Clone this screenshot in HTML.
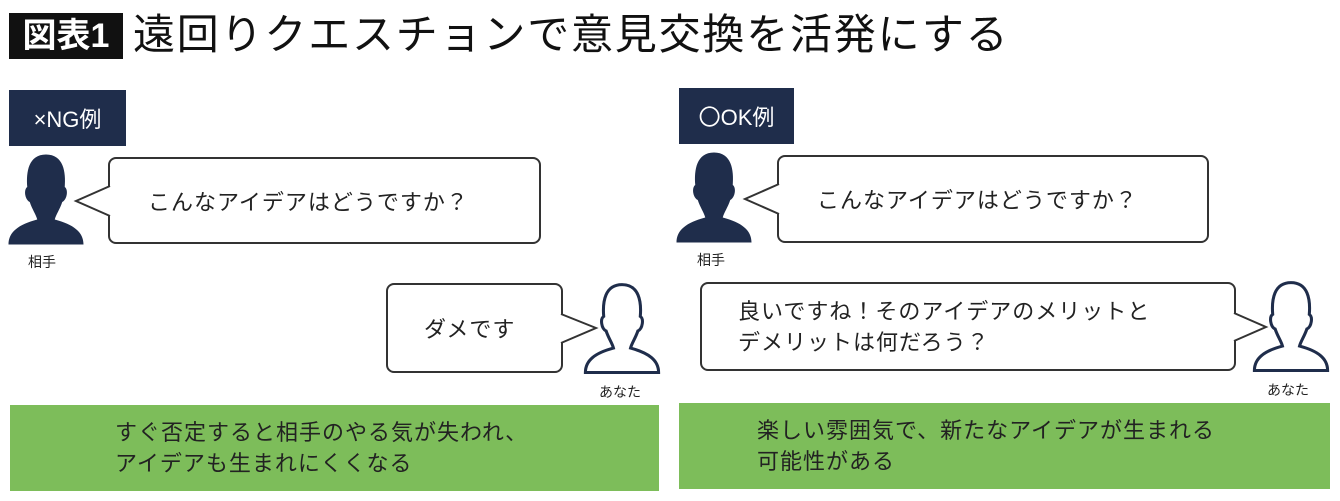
<!DOCTYPE html>
<html><head><meta charset="utf-8"><style>
body{margin:0;width:1340px;height:501px;background:#fff;position:relative;overflow:hidden;font-family:"Liberation Sans","Noto Sans CJK JP",sans-serif;color:#222}
.a{position:absolute}
.lbl{background:#1f2d4b;color:#fff;font-size:22px;display:flex;align-items:center;justify-content:center}
.b{border:2px solid #333;border-radius:8px;background:#fff;font-size:22px;letter-spacing:1px;box-sizing:border-box;display:flex;align-items:center}
.g{background:#7dbd5a;font-size:22px;color:#222;line-height:31px;box-sizing:border-box;padding-left:105px;display:flex;flex-direction:column;justify-content:center;letter-spacing:1px}
.s{font-size:14px}
</style></head><body>
<div class="a" style="left:9px;top:13px;width:114px;height:46px;background:#111;color:#fff;font-size:34px;font-weight:bold;line-height:46px;text-align:center">図表1</div>
<div class="a" style="left:133px;top:8px;font-size:42px;line-height:54px;letter-spacing:1.8px;color:#111">遠回りクエスチョンで意見交換を活発にする</div>

<div class="a lbl" style="left:9px;top:90px;width:117px;height:56px">×NG例</div>
<div class="a lbl" style="left:679px;top:88px;width:115px;height:56px">〇OK例</div>

<svg class="a" style="left:0;top:0" width="1340" height="501">
<defs>
<path id="pf" d="M0,-38 C14,-38 16,-24 15,-12 C18,-10 17,-2 13,0 C11,6 8,10 7,14 C22,18 30,24 30,34 L-30,34 C-30,24 -22,18 -7,14 C-8,10 -11,6 -13,0 C-17,-2 -18,-10 -15,-12 C-16,-24 -14,-38 0,-38Z"/>
</defs>
<use href="#pf" transform="translate(46,202) scale(1.25)" fill="#1f2d4b"/>
<use href="#pf" transform="translate(714,200) scale(1.25)" fill="#1f2d4b"/>
<use href="#pf" transform="translate(622,331) scale(1.22)" fill="none" stroke="#1f2d4b" stroke-width="2.5"/>
<use href="#pf" transform="translate(1291,329) scale(1.22)" fill="none" stroke="#1f2d4b" stroke-width="2.5"/>
</svg>

<div class="a b" style="left:108px;top:157px;width:433px;height:87px;padding-left:38px">こんなアイデアはどうですか？</div>
<div class="a b" style="left:777px;top:155px;width:432px;height:88px;padding-left:38px">こんなアイデアはどうですか？</div>
<div class="a b" style="left:386px;top:283px;width:177px;height:90px;padding-left:36px">ダメです</div>
<div class="a b" style="left:700px;top:282px;width:536px;height:89px;padding-left:36px;line-height:31px">良いですね！そのアイデアのメリットと<br>デメリットは何だろう？</div>

<svg class="a" style="left:0;top:0" width="1340" height="501">
<polyline points="110,186 76,201 110,216" fill="#fff" stroke="#333" stroke-width="2"/>
<polyline points="779,184 745,199 779,214" fill="#fff" stroke="#333" stroke-width="2"/>
<polyline points="561,314 596,328 561,343" fill="#fff" stroke="#333" stroke-width="2"/>
<polyline points="1234,313 1266,327 1234,341" fill="#fff" stroke="#333" stroke-width="2"/>
</svg>

<div class="a s" style="left:28px;top:252px">相手</div>
<div class="a s" style="left:697px;top:250px">相手</div>
<div class="a s" style="left:599px;top:382px">あなた</div>
<div class="a s" style="left:1267px;top:380px">あなた</div>

<div class="a g" style="left:10px;top:405px;width:649px;height:86px">すぐ否定すると相手のやる気が失われ、<br>アイデアも生まれにくくなる</div>
<div class="a g" style="left:679px;top:403px;width:651px;height:86px;padding-left:78px">楽しい雰囲気で、新たなアイデアが生まれる<br>可能性がある</div>
</body></html>
